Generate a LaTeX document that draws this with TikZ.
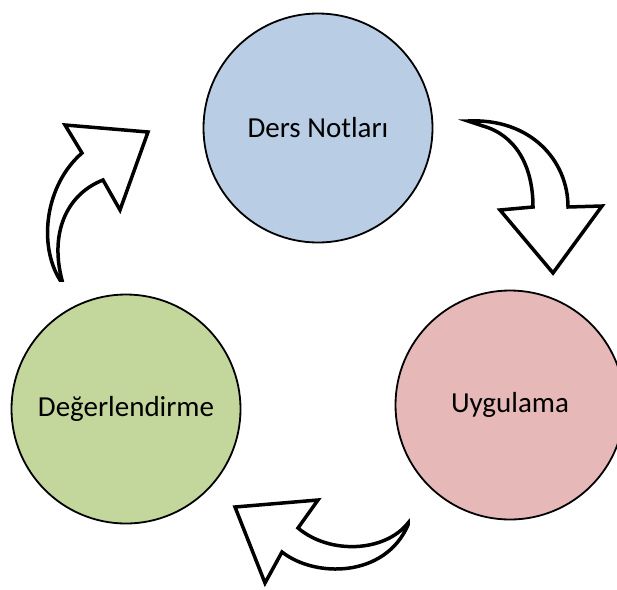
\documentclass[tikz,border=0pt]{standalone}
\usepackage{fontspec}
\setmainfont{Carlito}
\newcommand{\lowtext}[1]{\raisebox{-3pt}{#1}}
\begin{document}
\begin{tikzpicture}[x=1pt,y=-1pt,
  circ/.style={circle,draw=black,line width=1.8pt,minimum size=229pt,inner sep=0pt,font=\fontsize{29}{34}\selectfont},
  bigarrow/.style={draw=black,fill=white,line width=3.5pt,line join=miter}]
\useasboundingbox (0,0) rectangle (617,589);
\node[circ,fill={rgb,255:red,185;green,205;blue,229}] (ders) at (318,128) {\lowtext{Ders Notları}};
\node[circ,fill={rgb,255:red,230;green,185;blue,184}] (uyg) at (510,405) {\lowtext{Uygulama}};
\node[circ,fill={rgb,255:red,195;green,214;blue,155}] (deg) at (126,409) {\lowtext{Değerlendirme}};
% arrow top-right
\draw[bigarrow] (468,121) .. controls (530,118) and (568,160) .. (568,207) -- (602,206) -- (553,273) -- (500,210) -- (533,207) .. controls (533,165) and (515,135) .. (483,126) -- cycle;
% arrow bottom
\draw[bigarrow] (408,523) .. controls (385,552) and (330,555) .. (298,528) -- (318,500) -- (235,507) -- (265,583) -- (282,552) .. controls (315,578) and (385,578) .. (408,525) -- cycle;
% arrow left
\draw[bigarrow] (60,280) .. controls (38,245) and (45,185) .. (82,153) -- (65,125) -- (148,132) -- (120,210) -- (103,180) .. controls (65,195) and (50,235) .. (62,280) -- cycle;
\end{tikzpicture}
\end{document}
